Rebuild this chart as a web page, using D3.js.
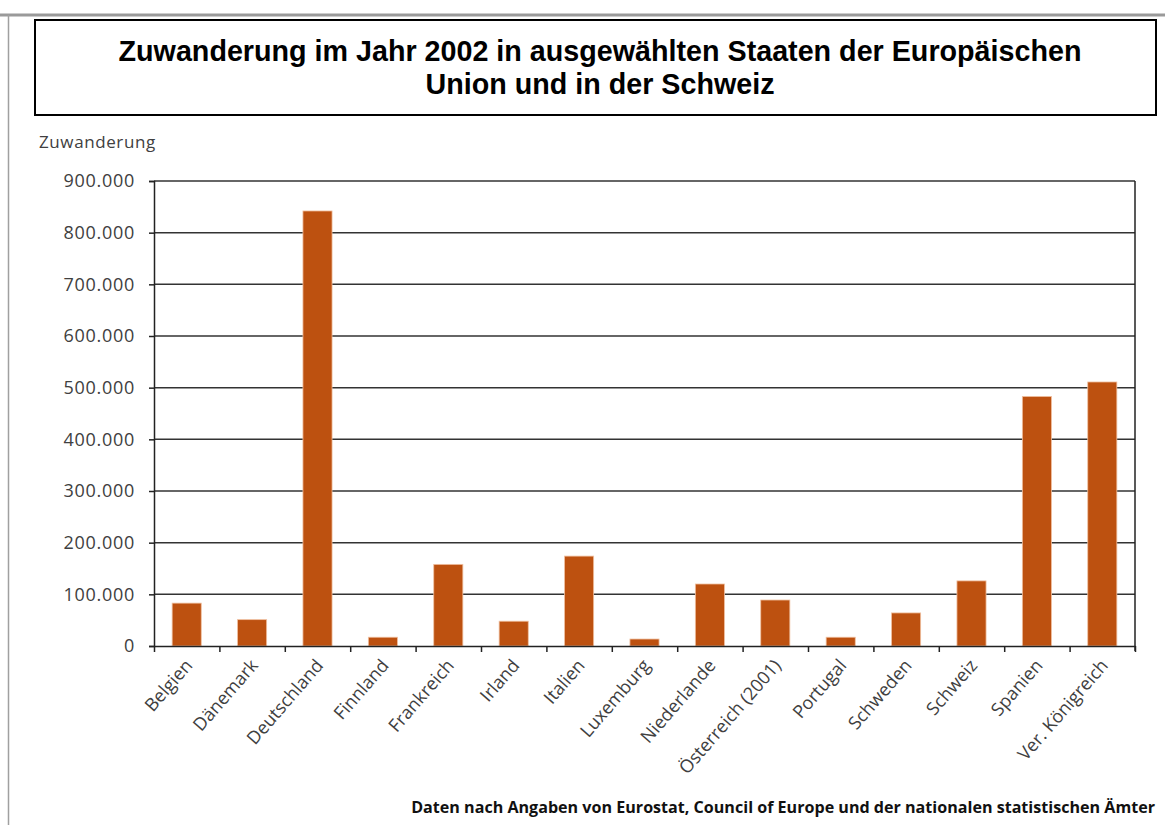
<!DOCTYPE html>
<html>
<head>
<meta charset="utf-8">
<script src="https://cdn.jsdelivr.net/npm/d3@7"></script>
<style>
  html, body { margin: 0; padding: 0; background: #fff; }
  svg { display: block; }
</style>
</head>
<body>
<svg id="chart" width="1165" height="825"></svg>
<script>
const titleLines = ["Zuwanderung im Jahr 2002 in ausgewählten Staaten der Europäischen", "Union und in der Schweiz"];
const yAxisTitle = "Zuwanderung";
const footerText = "Daten nach Angaben von Eurostat, Council of Europe und der nationalen statistischen Ämter";
const categories = ["Belgien", "Dänemark", "Deutschland", "Finnland", "Frankreich", "Irland", "Italien", "Luxemburg", "Niederlande", "Österreich (2001)", "Portugal", "Schweden", "Schweiz", "Spanien", "Ver. Königreich"];
const values = [83000, 51000, 842000, 17000, 158000, 48000, 174000, 13500, 120000, 89000, 17000, 64000, 126000, 483000, 511000];
const yTicks = [0, 100000, 200000, 300000, 400000, 500000, 600000, 700000, 800000, 900000];

const svg = d3.select("#chart");
const W = 1165, H = 825;

// outer gray frame
svg.append("line").attr("x1", 0).attr("x2", W).attr("y1", 15).attr("y2", 15)
  .attr("stroke", "#9a9a9a").attr("stroke-width", 3);
svg.append("line").attr("x1", 8.5).attr("x2", 8.5).attr("y1", 15).attr("y2", H)
  .attr("stroke", "#a0a0a0").attr("stroke-width", 1.5);

// title box
svg.append("rect").attr("x", 35).attr("y", 20).attr("width", 1121).attr("height", 95)
  .attr("fill", "#fff").attr("stroke", "#000").attr("stroke-width", 2);
svg.append("text")
  .attr("x", 600).attr("y", 61)
  .attr("text-anchor", "middle")
  .style("font-family", "'Liberation Sans', Arial, sans-serif")
  .style("font-weight", "bold").style("font-size", "28.7px").attr("fill", "#000")
  .selectAll("tspan").data(titleLines).join("tspan")
  .attr("x", 600).attr("dy", (d, i) => i === 0 ? 0 : 33).text(d => d);

const m = { left: 154, right: 1135, top: 181, bottom: 646 };
const y = d3.scaleLinear().domain([0, 900000]).range([m.bottom, m.top]);
const x = d3.scaleBand().domain(categories).range([m.left, m.right])
  .paddingInner(0.555).paddingOuter(0.2775);
const xb = d3.scaleLinear().domain([0, categories.length]).range([m.left, m.right]);

const loc = d3.formatLocale({ decimal: ",", thousands: ".", grouping: [3], currency: ["", "€"] });
const fmt = loc.format(",d");

const textColor = "#404040";
const fontFam = "'Open Sans', 'Noto Sans', sans-serif";

// gridlines
svg.append("g").selectAll("line").data(yTicks.filter(d => d > 0)).join("line")
  .attr("x1", m.left).attr("x2", m.right)
  .attr("y1", d => y(d)).attr("y2", d => y(d))
  .attr("stroke", "#333").attr("stroke-width", 1.5);

// bars
svg.append("g").selectAll("rect").data(values).join("rect")
  .attr("x", (d, i) => x(categories[i]))
  .attr("y", d => y(d))
  .attr("width", x.bandwidth())
  .attr("height", d => y(0) - y(d))
  .attr("fill", "#bd5110")
  .attr("stroke", "#f0c0a0").attr("stroke-width", 0.8);

// right border
svg.append("line").attr("x1", m.right).attr("x2", m.right).attr("y1", m.top).attr("y2", m.bottom + 5)
  .attr("stroke", "#222").attr("stroke-width", 1.5);

// y axis
const yAxis = svg.append("g").attr("transform", `translate(${m.left},0)`)
  .call(d3.axisLeft(y).tickValues(yTicks).tickFormat(fmt).tickSize(5).tickPadding(14));
yAxis.select(".domain").attr("stroke", "#222").attr("stroke-width", 1.5);
yAxis.selectAll(".tick line").attr("stroke", "#222").attr("stroke-width", 1.5);
yAxis.selectAll(".tick text").attr("fill", textColor)
  .style("font-family", fontFam).style("font-size", "18px").style("letter-spacing", "0.7px");

// x axis boundary ticks
const xTickAxis = svg.append("g").attr("transform", `translate(0,${m.bottom})`)
  .call(d3.axisBottom(xb).tickValues(d3.range(0, categories.length + 1)).tickFormat("").tickSize(6).tickSizeOuter(0));
xTickAxis.select(".domain").attr("stroke", "#222").attr("stroke-width", 1.5);
xTickAxis.selectAll(".tick line").attr("stroke", "#222").attr("stroke-width", 1.5);

// x labels
const xAxis = svg.append("g").attr("transform", `translate(0,${m.bottom})`)
  .call(d3.axisBottom(x).tickSize(0).tickPadding(0));
xAxis.select(".domain").remove();
xAxis.selectAll(".tick text")
  .attr("fill", textColor)
  .style("font-family", fontFam).style("font-size", "18px")
  .attr("text-anchor", "end")
  .attr("transform", "translate(2,16) rotate(-49)")
  .attr("dy", "0.35em").attr("y", 0).attr("x", 0);

// y axis title
svg.append("text").attr("x", 39).attr("y", 148).text(yAxisTitle)
  .attr("fill", textColor).style("font-family", fontFam).style("font-size", "17px").style("letter-spacing", "0.6px");

// footer
svg.append("text").attr("x", 1155).attr("y", 813).attr("text-anchor", "end").text(footerText)
  .attr("fill", "#111").style("font-family", fontFam).style("font-weight", "bold").style("font-size", "16.1px");
</script>
</body>
</html>
